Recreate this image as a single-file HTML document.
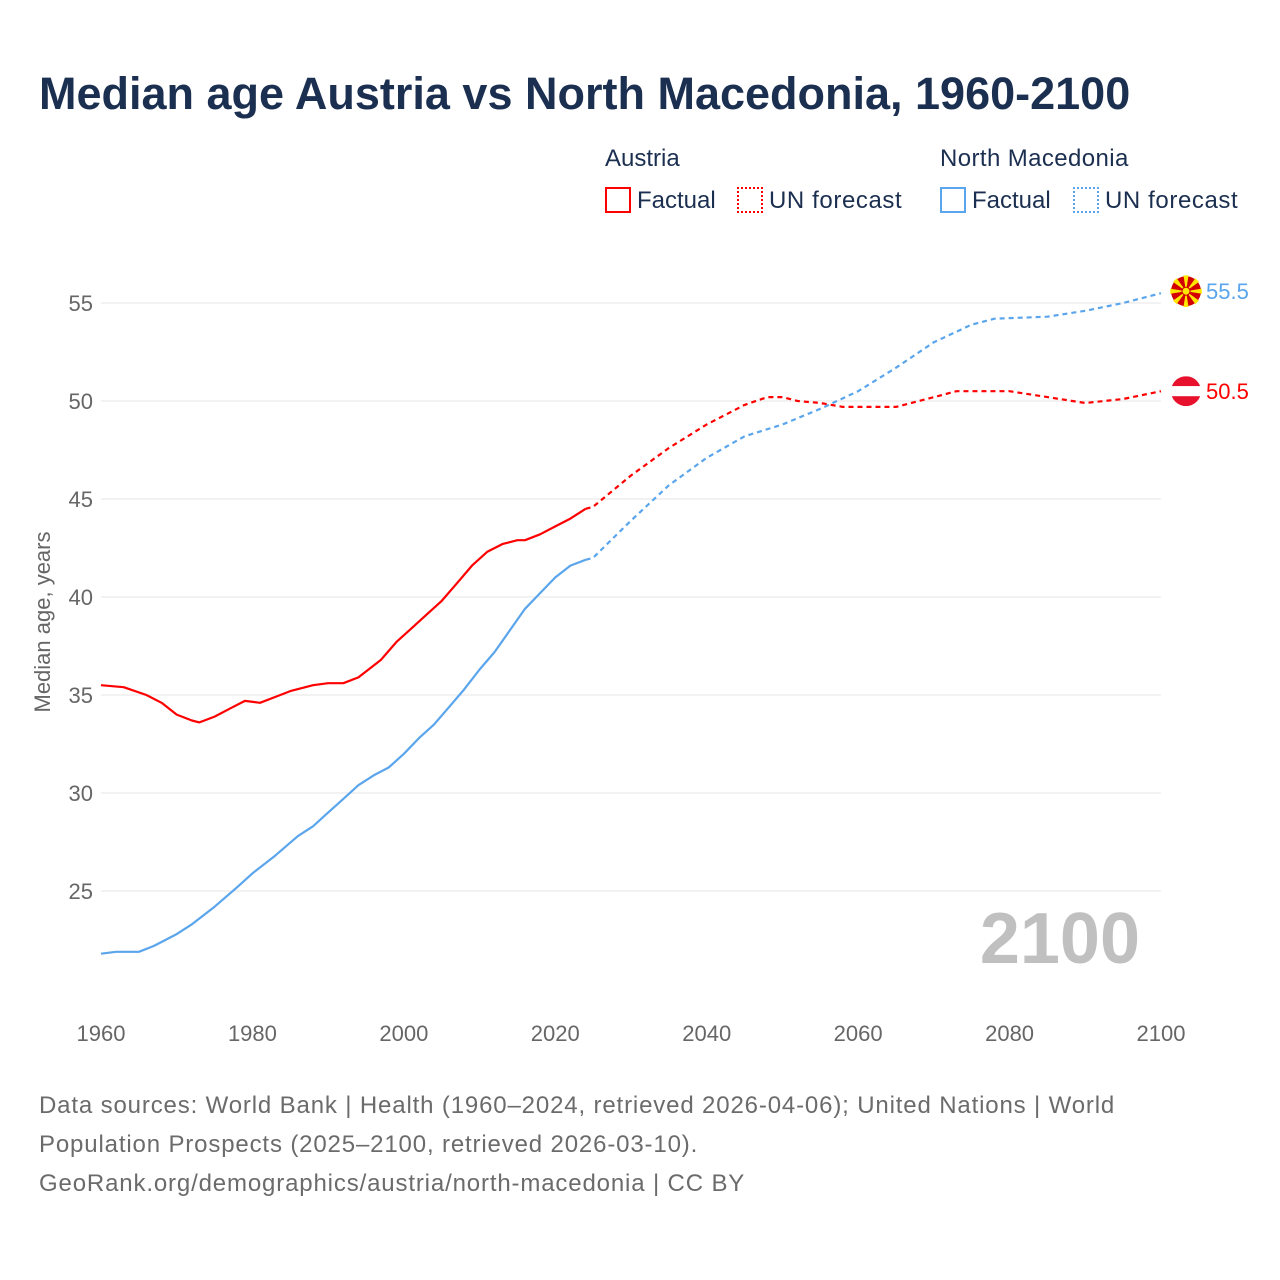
<!DOCTYPE html>
<html><head><meta charset="utf-8">
<style>
html,body{margin:0;padding:0;background:#fff;}
body{width:1280px;height:1280px;position:relative;font-family:"Liberation Sans",sans-serif;overflow:hidden;}
.t{position:absolute;white-space:nowrap;}
</style></head>
<body>
<div class="t" style="left:39px;top:68px;font-size:45px;font-weight:bold;color:#1b2f50;letter-spacing:0px;">Median age Austria vs North Macedonia, 1960-2100</div>

<div>
<div class="t" style="left:605px;top:145px;font-size:24px;color:#1b2f50;">Austria</div>
<div class="t" style="left:940px;top:145px;font-size:24px;color:#1b2f50;letter-spacing:0.4px;">North Macedonia</div>
<div class="t" style="left:605px;top:187px;font-size:24px;color:#1b2f50;"><span style="display:inline-block;width:22px;height:22px;border:2px solid #ff0000;vertical-align:-5px;margin-right:6px;"></span>Factual</div>
<div class="t" style="left:737px;top:187px;font-size:24px;color:#1b2f50;letter-spacing:0.6px;"><span style="display:inline-block;width:22px;height:22px;border:2px dotted #ff0000;vertical-align:-5px;margin-right:6px;"></span>UN forecast</div>
<div class="t" style="left:940px;top:187px;font-size:24px;color:#1b2f50;"><span style="display:inline-block;width:22px;height:22px;border:2px solid #5aa5ec;vertical-align:-5px;margin-right:6px;"></span>Factual</div>
<div class="t" style="left:1073px;top:187px;font-size:24px;color:#1b2f50;letter-spacing:0.6px;"><span style="display:inline-block;width:22px;height:22px;border:2px dotted #5aa5ec;vertical-align:-5px;margin-right:6px;"></span>UN forecast</div>
</div>

<svg id="chart" width="1280" height="1280" style="position:absolute;left:0;top:0;" font-family="Liberation Sans, sans-serif"></svg>

<div class="t" style="left:39px;top:1086px;font-size:24px;line-height:39px;color:#6b6b6b;letter-spacing:0.85px;">Data sources: World Bank | Health (1960–2024, retrieved 2026-04-06); United Nations | World<br>Population Prospects (2025–2100, retrieved 2026-03-10).<br>GeoRank.org/demographics/austria/north-macedonia | CC BY</div>

<script>
const yTicks = [25, 30, 35, 40, 45, 50, 55];
const xTicks = [1960, 1980, 2000, 2020, 2040, 2060, 2080, 2100];
const atYears = [1960,1963,1966,1968,1970,1972,1973,1975,1977,1979,1981,1983,1985,1988,1990,1992,1994,1997,1999,2001,2003,2005,2007,2009,2011,2013,2015,2016,2018,2020,2022,2024];
const atValues = [35.5,35.4,35.0,34.6,34.0,33.7,33.6,33.9,34.3,34.7,34.6,34.9,35.2,35.5,35.6,35.6,35.9,36.8,37.7,38.4,39.1,39.8,40.7,41.6,42.3,42.7,42.9,42.9,43.2,43.6,44.0,44.5];
const atFcYears = [2024,2025,2030,2035,2040,2045,2048,2050,2052,2055,2058,2065,2070,2073,2080,2085,2090,2095,2100];
const atFcValues = [44.5,44.6,46.2,47.6,48.8,49.8,50.2,50.2,50.0,49.9,49.7,49.7,50.2,50.5,50.5,50.2,49.9,50.1,50.5];
const mkYears = [1960,1962,1965,1967,1970,1972,1975,1978,1980,1983,1986,1988,1990,1992,1994,1996,1998,2000,2002,2004,2006,2008,2010,2012,2014,2016,2018,2020,2022,2024];
const mkValues = [21.8,21.9,21.9,22.2,22.8,23.3,24.2,25.2,25.9,26.8,27.8,28.3,29.0,29.7,30.4,30.9,31.3,32.0,32.8,33.5,34.4,35.3,36.3,37.2,38.3,39.4,40.2,41.0,41.6,41.9];
const mkFcYears = [2024,2025,2030,2035,2040,2045,2050,2055,2060,2065,2070,2075,2078,2085,2090,2095,2100];
const mkFcValues = [41.9,42.0,43.9,45.7,47.1,48.2,48.8,49.6,50.5,51.7,53.0,53.9,54.2,54.3,54.6,55.0,55.5];

const svg = document.getElementById('chart');
const NS = 'http://www.w3.org/2000/svg';
const X0 = 101, X1 = 1161, Y25 = 891, Y55 = 303;
function xs(y){ return X0 + (y - 1960) * (X1 - X0) / 140; }
function ys(v){ return Y25 - (v - 25) * (Y25 - Y55) / 30; }
function el(tag, attrs){ const e = document.createElementNS(NS, tag); for (const k in attrs) e.setAttribute(k, attrs[k]); svg.appendChild(e); return e; }

yTicks.forEach(v => {
  const g = el('line', {x1: X0, x2: X1, y1: ys(v), y2: ys(v), stroke: '#e6e6e6', 'stroke-width': 1});
  
  
  const t = el('text', {x: 93, y: ys(v) + 8, 'text-anchor': 'end', 'font-size': 22, fill: '#666'});
  t.textContent = v;
  
  
});
xTicks.forEach(yr => {
  const t = el('text', {x: xs(yr), y: 1041, 'text-anchor': 'middle', 'font-size': 22, fill: '#666'});
  t.textContent = yr;
  
  
});
const yt = el('text', {x: 0, y: 0, 'font-size': 22, fill: '#666', 'text-anchor': 'middle', transform: 'translate(50,622) rotate(-90)'});
yt.textContent = 'Median age, years';



const yr = el('text', {x: 1140, y: 963, 'text-anchor': 'end', 'font-size': 72, 'font-weight': 'bold', fill: '#c0c0c0'});
yr.textContent = '2100';



function line(years, vals, color, dash, name){
  const d = years.map((y,i) => (i ? 'L' : 'M') + xs(y).toFixed(1) + ',' + ys(vals[i]).toFixed(1)).join(' ');
  const p = el('path', {d: d, fill: 'none', stroke: color, 'stroke-width': 2.2, 'stroke-linejoin': 'round'});
  if (dash) p.setAttribute('stroke-dasharray', '5,4');
  
  
}
line(mkYears, mkValues, '#5aa5ec', false, 'north-macedonia-factual-line');
line(mkFcYears, mkFcValues, '#5aa5ec', true, 'north-macedonia-forecast-line');
line(atYears, atValues, '#ff0000', false, 'austria-factual-line');
line(atFcYears, atFcValues, '#ff0000', true, 'austria-forecast-line');

const atLast = atFcValues[atFcValues.length-1], mkLast = mkFcValues[mkFcValues.length-1];
const ay = ys(atLast), my = ys(mkLast) - 2;
const cx = 1186;
const defs = el('defs', {});
const cp = document.createElementNS(NS, 'clipPath'); cp.setAttribute('id', 'atclip');
const cc = document.createElementNS(NS, 'circle'); cc.setAttribute('cx', cx); cc.setAttribute('cy', ay); cc.setAttribute('r', 15);
cp.appendChild(cc); defs.appendChild(cp);
const fa = el('g', {'clip-path': 'url(#atclip)'});


[['#e8112d', ay-15], ['#fff', ay-5], ['#e8112d', ay+5]].forEach(s => {
  const r = document.createElementNS(NS, 'rect'); r.setAttribute('x', cx-15); r.setAttribute('y', s[1]); r.setAttribute('width', 30); r.setAttribute('height', 10); r.setAttribute('fill', s[0]); fa.appendChild(r);
});
const fm = el('g', {});


const bg = document.createElementNS(NS, 'circle'); bg.setAttribute('cx', cx); bg.setAttribute('cy', my); bg.setAttribute('r', 15); bg.setAttribute('fill', '#d20000'); fm.appendChild(bg);
for (let i = 0; i < 8; i++) {
  const a = i * Math.PI / 4, w = 0.16;
  const pp = document.createElementNS(NS, 'polygon');
  pp.setAttribute('points', `${cx},${my} ${cx+16*Math.cos(a-w)},${my+16*Math.sin(a-w)} ${cx+16*Math.cos(a+w)},${my+16*Math.sin(a+w)}`);
  pp.setAttribute('fill', '#ffe600'); fm.appendChild(pp);
}
const sun = document.createElementNS(NS, 'circle'); sun.setAttribute('cx', cx); sun.setAttribute('cy', my); sun.setAttribute('r', 4); sun.setAttribute('fill', '#ffe600'); sun.setAttribute('stroke', '#d20000'); sun.setAttribute('stroke-width', 1); fm.appendChild(sun);

const la = el('text', {x: 1206, y: ay + 8, 'font-size': 22, fill: '#ff0000'});
la.textContent = atLast.toFixed(1);


const lm = el('text', {x: 1206, y: my + 8, 'font-size': 22, fill: '#5aa5ec'});
lm.textContent = mkLast.toFixed(1);


</script>
</body></html>
